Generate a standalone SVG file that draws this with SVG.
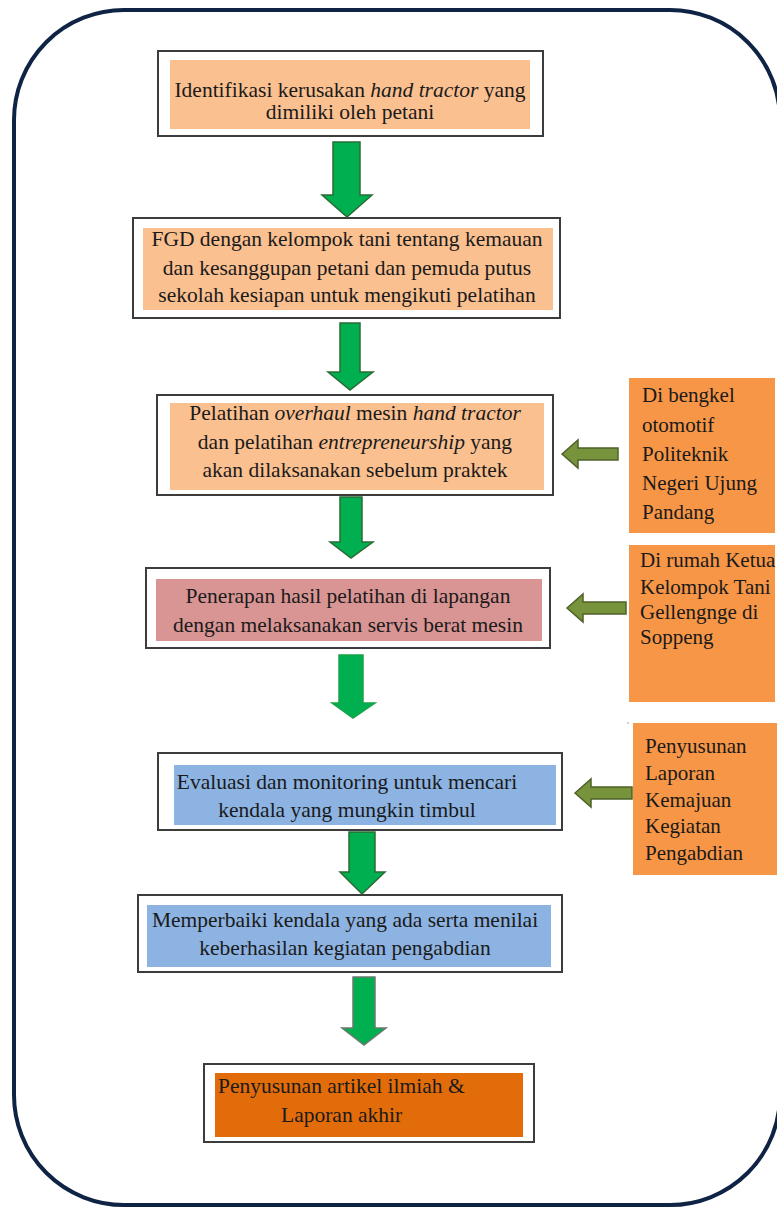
<svg xmlns="http://www.w3.org/2000/svg" width="777" height="1208" viewBox="0 0 777 1208">
<style>
.frame{fill:none;stroke:#0f2444;stroke-width:4}
.outer{fill:#ffffff;stroke:#3c3c3c;stroke-width:2}
.peach{fill:#fac090}
.pink{fill:#d99594}
.blue{fill:#8db3e2}
.dorange{fill:#e36c0a}
.side{fill:#f79646}
.down{fill:#00b050;stroke:#2a6b34;stroke-width:1.5;stroke-linejoin:miter}
.left{fill:#77933c;stroke:#4f6228;stroke-width:1.5}
text{font-family:"Liberation Serif","Times New Roman",serif;font-size:21.5px;fill:#1a1a1a}
.c{text-anchor:middle}
.i{font-style:italic}
.s{font-size:21px}
</style>
<rect class="frame" x="14" y="10" width="766" height="1195" rx="110" ry="110"/>

<g id="node1">
<rect class="outer" x="158" y="51" width="385" height="85"/>
<rect class="peach" x="170" y="60" width="360" height="69"/>
<text class="c" x="350" y="97">Identifikasi kerusakan <tspan class="i">hand tractor</tspan> yang</text>
<text class="c" x="350" y="119">dimiliki oleh petani</text>
</g>

<g id="node2">
<rect class="outer" x="133" y="218" width="427" height="100"/>
<rect class="peach" x="143" y="228" width="410" height="82"/>
<text class="c" x="347" y="246">FGD dengan kelompok tani tentang kemauan</text>
<text class="c" x="347" y="275">dan kesanggupan petani dan pemuda putus</text>
<text class="c" x="347" y="302">sekolah kesiapan untuk mengikuti pelatihan</text>
</g>

<g id="node3">
<rect class="outer" x="157" y="395" width="396" height="100"/>
<rect class="peach" x="170" y="403" width="374" height="87"/>
<text class="c" x="355" y="420">Pelatihan <tspan class="i">overhaul</tspan> mesin <tspan class="i">hand tractor</tspan></text>
<text class="c" x="355" y="449">dan pelatihan <tspan class="i">entrepreneurship</tspan> yang</text>
<text class="c" x="355" y="477">akan dilaksanakan sebelum praktek</text>
</g>

<g id="side1">
<rect class="side" x="629" y="378" width="146" height="155"/>
<text class="s" x="642" y="402">Di bengkel</text>
<text class="s" x="642" y="432">otomotif</text>
<text class="s" x="642" y="461">Politeknik</text>
<text class="s" x="642" y="490">Negeri Ujung</text>
<text class="s" x="642" y="519">Pandang</text>
</g>

<g id="node4">
<rect class="outer" x="146" y="568" width="404" height="80"/>
<rect class="pink" x="156" y="579" width="386" height="62"/>
<text class="c" x="348" y="603">Penerapan hasil pelatihan di lapangan</text>
<text class="c" x="348" y="632">dengan melaksanakan servis berat mesin</text>
</g>

<g id="side2">
<rect class="side" x="629" y="545" width="146" height="157"/>
<text class="s" x="640" y="567">Di rumah Ketua</text>
<text class="s" x="640" y="594">Kelompok Tani</text>
<text class="s" x="640" y="619">Gellengnge di</text>
<text class="s" x="640" y="644">Soppeng</text>
</g>

<g id="node5">
<rect class="outer" x="158" y="753" width="404" height="77"/>
<rect class="blue" x="174" y="765" width="382" height="60"/>
<text class="c" x="347" y="789">Evaluasi dan monitoring untuk mencari</text>
<text class="c" x="347" y="817">kendala yang mungkin timbul</text>
</g>

<g id="side3">
<rect class="side" x="633" y="723" width="146" height="152"/>
<circle cx="628" cy="723" r="0.8" fill="#999"/>
<text class="s" x="645" y="753">Penyusunan</text>
<text class="s" x="645" y="780">Laporan</text>
<text class="s" x="645" y="807">Kemajuan</text>
<text class="s" x="645" y="833">Kegiatan</text>
<text class="s" x="645" y="860">Pengabdian</text>
</g>

<g id="node6">
<rect class="outer" x="138" y="895" width="424" height="77"/>
<rect class="blue" x="147" y="905" width="404" height="62"/>
<text class="c" x="345" y="927">Memperbaiki kendala yang ada serta menilai</text>
<text class="c" x="345" y="955">keberhasilan kegiatan pengabdian</text>
</g>

<g id="node7">
<rect class="outer" x="204" y="1064" width="330" height="78"/>
<rect class="dorange" x="215" y="1073" width="308" height="64"/>
<text x="218" y="1093">Penyusunan artikel ilmiah &amp;</text>
<text x="281" y="1122">Laporan akhir</text>
</g>

<g id="connectors">
<polygon class="down" points="333,142 360,142 360,195 372,195 347,217 322,195 333,195"/>
<polygon class="down" points="340,323 360,323 360,372 373,372 350,390 328,372 340,372"/>
<polygon class="down" points="340,497 362,497 362,542 373,542 351,558 330,542 340,542"/>
<polygon class="down" points="339,655 363,655 363,703 375,703 353,718 332,703 339,703" style="stroke:#19a24a"/>
<polygon class="down" points="349,832 375,832 375,872 385,872 362,894 340,872 349,872"/>
<polygon class="down" points="353,977 375,977 375,1028 386,1028 364,1045 342,1028 353,1028" style="stroke:#6a7a6e"/>
<polygon class="left" points="562,454 578,440 578,448 618,448 618,460 578,460 578,468"/>
<polygon class="left" points="567,608 583,594 583,602 626,602 626,614 583,614 583,622"/>
<polygon class="left" points="575,793 591,779 591,787 632,787 632,799 591,799 591,807"/>
</g>
</svg>
